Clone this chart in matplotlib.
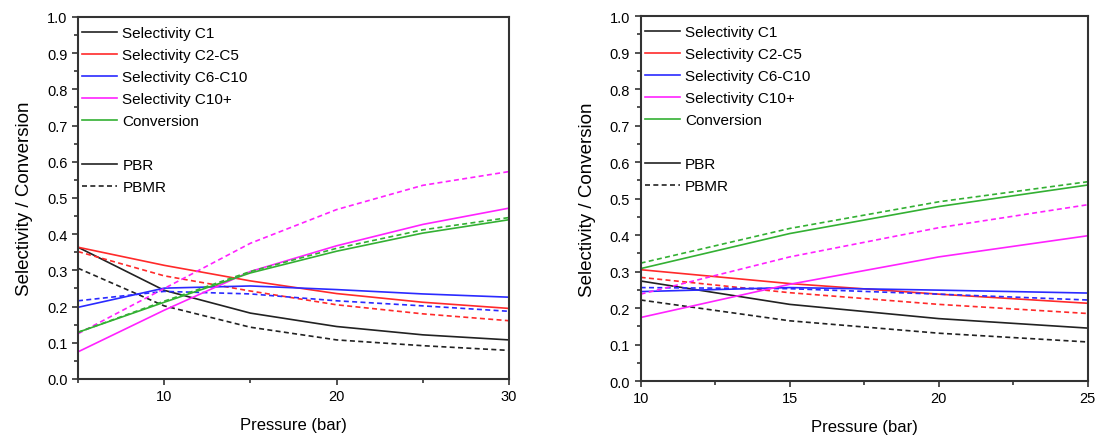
import matplotlib
matplotlib.use('Agg')
import matplotlib.pyplot as plt
from matplotlib.lines import Line2D
from matplotlib.ticker import MultipleLocator, FormatStrFormatter

plt.rcParams['font.family'] = ['Liberation Sans', 'DejaVu Sans']

# Panel izquierdo: presion 5-30 bar
p_left = [5, 10, 15, 20, 25, 30]
c1_pbr_l = [0.364, 0.245, 0.182, 0.145, 0.122, 0.108]
c1_pbmr_l = [0.306, 0.202, 0.143, 0.108, 0.092, 0.079]
c2c5_pbr_l = [0.364, 0.314, 0.271, 0.236, 0.212, 0.195]
c2c5_pbmr_l = [0.352, 0.285, 0.243, 0.205, 0.180, 0.161]
c6c10_pbr_l = [0.198, 0.251, 0.257, 0.247, 0.235, 0.226]
c6c10_pbmr_l = [0.216, 0.242, 0.235, 0.216, 0.202, 0.187]
c10p_pbr_l = [0.075, 0.190, 0.297, 0.368, 0.427, 0.472]
c10p_pbmr_l = [0.125, 0.250, 0.375, 0.468, 0.535, 0.573]
conv_pbr_l = [0.129, 0.212, 0.293, 0.353, 0.403, 0.440]
conv_pbmr_l = [0.129, 0.215, 0.297, 0.361, 0.412, 0.446]

# Panel derecho: presion 10-25 bar
p_right = [10, 15, 20, 25]
c1_pbr_r = [0.274, 0.210, 0.171, 0.145]
c1_pbmr_r = [0.222, 0.165, 0.131, 0.107]
c2c5_pbr_r = [0.305, 0.267, 0.238, 0.213]
c2c5_pbmr_r = [0.284, 0.242, 0.210, 0.185]
c6c10_pbr_r = [0.245, 0.256, 0.249, 0.241]
c6c10_pbmr_r = [0.256, 0.253, 0.238, 0.222]
c10p_pbr_r = [0.174, 0.265, 0.340, 0.398]
c10p_pbmr_r = [0.238, 0.340, 0.420, 0.483]
conv_pbr_r = [0.308, 0.404, 0.478, 0.537]
conv_pbmr_r = [0.323, 0.418, 0.491, 0.546]

labels = ['Selectivity C1', 'Selectivity C2-C5', 'Selectivity C6-C10',
          'Selectivity C10+', 'Conversion']
colors = ['#222222', '#ff2a2a', '#2a2aff', '#ff22ff', '#33b033']
dash = (0, (3, 2))


def panel(ax, x, solid, dashed, xlim, major, minor):
    for s, d, c in zip(solid, dashed, colors):
        ax.plot(x, s, color=c, lw=1.2, ls='-')
        ax.plot(x, d, color=c, lw=1.2, ls=dash)
    ax.set_xlim(*xlim)
    ax.set_ylim(0, 1.0)
    ax.xaxis.set_major_locator(MultipleLocator(major))
    ax.xaxis.set_minor_locator(MultipleLocator(minor))
    ax.yaxis.set_major_locator(MultipleLocator(0.1))
    ax.yaxis.set_minor_locator(MultipleLocator(0.05))
    ax.yaxis.set_major_formatter(FormatStrFormatter('%.1f'))
    ax.tick_params(which='both', direction='out', labelsize=10.5, color='#333333')
    ax.tick_params(which='major', length=4, width=1.2)
    ax.tick_params(which='minor', length=3, width=1.2)
    for sp in ax.spines.values():
        sp.set_linewidth(1.5)
        sp.set_color('#333333')
    ax.set_xlabel('Pressure (bar)', fontsize=12, labelpad=10)
    ax.set_ylabel('Selectivity / Conversion', fontsize=13.5, labelpad=10)

    handles = [Line2D([], [], color=c, lw=1.2) for c in colors]
    handles.append(Line2D([], [], color='none'))
    handles.append(Line2D([], [], color='#222222', lw=1.2))
    handles.append(Line2D([], [], color='#222222', lw=1.2, ls=dash))
    leg_labels = labels + ['', 'PBR', 'PBMR']
    ax.legend(handles, leg_labels, loc='upper left', bbox_to_anchor=(0.0, 0.985),
              frameon=False, fontsize=11, handlelength=2.3, handletextpad=0.35,
              labelspacing=0.52, borderaxespad=0.0, borderpad=0.26)


fig = plt.figure(figsize=(10.97, 4.39), dpi=100)
ax1 = fig.add_axes([0.0711, 0.1344, 0.3929, 0.8246])
ax2 = fig.add_axes([0.584, 0.1298, 0.4075, 0.8314])

panel(ax1, p_left,
      [c1_pbr_l, c2c5_pbr_l, c6c10_pbr_l, c10p_pbr_l, conv_pbr_l],
      [c1_pbmr_l, c2c5_pbmr_l, c6c10_pbmr_l, c10p_pbmr_l, conv_pbmr_l],
      (5, 30), 10, 5)
panel(ax2, p_right,
      [c1_pbr_r, c2c5_pbr_r, c6c10_pbr_r, c10p_pbr_r, conv_pbr_r],
      [c1_pbmr_r, c2c5_pbmr_r, c6c10_pbmr_r, c10p_pbmr_r, conv_pbmr_r],
      (10, 25), 5, 2.5)

fig.savefig('out.png', dpi=100)
